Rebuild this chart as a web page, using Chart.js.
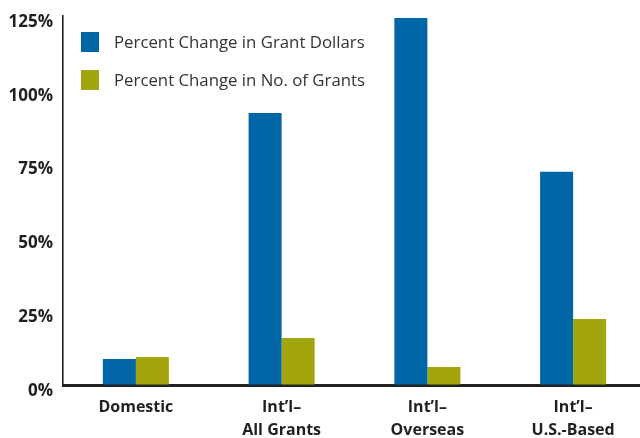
<!DOCTYPE html>
<html>
<head>
<meta charset="utf-8">
<script src="https://cdn.jsdelivr.net/npm/chart.js@4"></script>
<style>
  html, body { margin: 0; padding: 0; background: #fff; }
  #wrap { width: 640px; height: 438px; position: relative; }
</style>
</head>
<body>
<div id="wrap"><canvas id="c" width="640" height="438"></canvas></div>
<script>
const categories = ["Domestic", ["Int\u2019l\u2013", "All Grants"], ["Int\u2019l\u2013", "Overseas"], ["Int\u2019l\u2013", "U.S.-Based"]];
const grantDollars = [8.8, 92.1, 124.3, 72.2];
const numberOfGrants = [9.5, 15.9, 6.1, 22.4];
const seriesLabels = ["Percent Change in Grant Dollars", "Percent Change in No. of Grants"];
const yTicks = [0, 25, 50, 75, 100, 125];

const BLUE = "#0066A6";
const GREEN = "#A3A50F";
const TEXT = "#231F20";

const legendPlugin = {
  id: "insideLegend",
  afterDraw(chart) {
    const ctx = chart.ctx;
    ctx.save();
    ctx.font = "16.8px 'Open Sans'";
    ctx.textBaseline = "middle";
    ctx.textAlign = "left";
    chart.data.datasets.forEach((ds, i) => {
      const x = 81, y = 32 + i * 38;
      ctx.fillStyle = ds.backgroundColor;
      ctx.fillRect(x, y, 18, 20);
      ctx.fillStyle = "#333333";
      ctx.fillText(ds.label, 114, y + 11);
    });
    ctx.restore();
  }
};

// The category axis in the reference runs slightly past the right edge of the image
const extendAxisPlugin = {
  id: "extendAxis",
  afterLayout(chart) {
    const x = chart.scales.x;
    x.right = x.left + 583;
    x.width = 583;
    x.configure();
  }
};

new Chart(document.getElementById("c"), {
  type: "bar",
  data: {
    labels: categories,
    datasets: [
      { label: seriesLabels[0], data: grantDollars, backgroundColor: BLUE },
      { label: seriesLabels[1], data: numberOfGrants, backgroundColor: GREEN }
    ]
  },
  options: {
    responsive: false,
    animation: false,
    devicePixelRatio: 1,
    layout: { padding: { top: 16, right: 0, left: 0, bottom: 0 } },
    plugins: {
      legend: { display: false },
      tooltip: { enabled: false }
    },
    datasets: { bar: { categoryPercentage: 0.453, barPercentage: 1.0 } },
    scales: {
      x: {
        grid: { display: true, color: "transparent", drawTicks: false },
        border: { display: true, width: 3, color: "#222222" },
        ticks: {
          color: TEXT,
          padding: 11,
          font: { family: "'Open Sans'", size: 16, weight: "bold", lineHeight: 1.45 },
          maxRotation: 0,
          autoSkip: false
        },
        afterFit(s) { s.height = 53; s.paddingLeft = 0; s.paddingRight = 0; }
      },
      y: {
        min: 0,
        max: 125,
        afterBuildTicks(s) { s.ticks = yTicks.map(v => ({ value: v })); },
        grid: { display: true, color: "transparent", drawTicks: false },
        border: { display: true, width: 1.6, color: "#222222" },
        ticks: {
          color: TEXT,
          padding: 10,
          labelOffset: 6,
          font: { family: "'Open Sans'", size: 17, weight: "bold" },
          callback: v => v + "%"
        },
        afterFit(s) { s.width = 63; s.paddingTop = 0; s.paddingBottom = 0; }
      }
    }
  },
  plugins: [legendPlugin, extendAxisPlugin]
});
</script>
</body>
</html>
